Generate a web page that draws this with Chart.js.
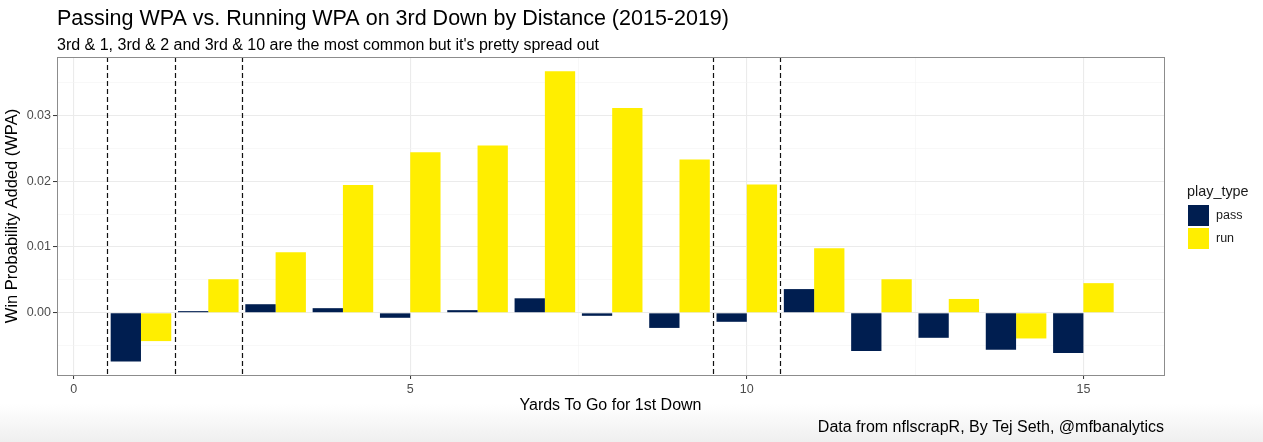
<!DOCTYPE html>
<html>
<head>
<meta charset="utf-8">
<script src="https://cdn.jsdelivr.net/npm/chart.js@4.4.1/dist/chart.umd.min.js"></script>
<style>
  html, body { margin: 0; padding: 0; }
  body { width: 1263px; height: 442px; overflow: hidden;
         background: linear-gradient(to bottom, #fff 0, #fff 404px, #efefef 442px); }
  canvas { display: block; }
</style>
</head>
<body>
<canvas id="chart" width="1263" height="442"></canvas>
<script>
const yardsToGo = [1, 2, 3, 4, 5, 6, 7, 8, 9, 10, 11, 12, 13, 14, 15];
const passWpa = [-0.0074, 0.00025, 0.0013, 0.0007, -0.00076, 0.0004, 0.0022, -0.00046, -0.0023, -0.00137, 0.0036, -0.0058, -0.0038, -0.0056, -0.0061];
const runWpa = [-0.0043, 0.0051, 0.0092, 0.0194, 0.0244, 0.0254, 0.0367, 0.0311, 0.0233, 0.0195, 0.0098, 0.0051, 0.0021, -0.0039, 0.0045];
const seriesNames = ["pass", "run"];
const seriesColors = ["#001E50", "#FFEE00"];

const xTicks = [0, 2.5, 5, 7.5, 10, 12.5, 15];
const xLabels = [0, 5, 10, 15];
const yTicks = [-0.005, 0, 0.005, 0.01, 0.015, 0.02, 0.025, 0.03, 0.035];
const yLabels = [0, 0.01, 0.02, 0.03];
const cutLines = [0.5, 1.5, 2.5, 9.5, 10.5];

const FONT = "'Liberation Sans', Arial, Helvetica, sans-serif";

function isLabel(list, v) {
  return list.some(l => Math.abs(l - v) < 1e-9);
}

function isMajor(list, c) {
  return !!(c && c.tick) && isLabel(list, c.tick.value);
}

function gridOpts(labels) {
  return {
    offset: false,
    color: c => isMajor(labels, c) ? "#ebebeb" : "#f4f4f4",
    lineWidth: c => isMajor(labels, c) ? 1.1 : 0.6,
    tickColor: c => isMajor(labels, c) ? "#333333" : "rgba(0,0,0,0)",
    tickLength: 4,
    tickWidth: 1
  };
}

const extras = {
  id: "extras",
  afterDatasetsDraw(chart) {
    const { ctx, chartArea: a, scales: { x } } = chart;
    ctx.save();
    // dashed cut lines
    ctx.strokeStyle = "#111";
    ctx.lineWidth = 1.2;
    ctx.setLineDash([5, 3]);
    cutLines.forEach(v => {
      const px = Math.round(x.getPixelForValue(v)) + 0.5;
      ctx.beginPath();
      ctx.moveTo(px, a.top);
      ctx.lineTo(px, a.bottom);
      ctx.stroke();
    });
    ctx.setLineDash([]);
    // panel border
    ctx.strokeStyle = "#8c8c8c";
    ctx.lineWidth = 1;
    ctx.strokeRect(Math.round(a.left) + 0.5, Math.round(a.top) + 0.5,
                   Math.round(a.right - a.left), Math.round(a.bottom - a.top));
    ctx.restore();
  },
  afterDraw(chart) {
    const { ctx, chartArea: a } = chart;
    ctx.save();
    // caption
    ctx.fillStyle = "#000";
    ctx.font = "16px " + FONT;
    ctx.textAlign = "right";
    ctx.textBaseline = "middle";
    ctx.fillText("Data from nflscrapR, By Tej Seth, @mfbanalytics", a.right, 428);
    // legend
    const lx = 1188;
    ctx.textAlign = "left";
    ctx.fillStyle = "#1a1a1a";
    ctx.font = "14.4px " + FONT;
    ctx.fillText("play_type", lx - 1, 192);
    chart.data.datasets.forEach((ds, i) => {
      const top = 205 + i * 23;
      ctx.fillStyle = ds.backgroundColor;
      ctx.fillRect(lx, top, 21, 21);
      ctx.fillStyle = "#1a1a1a";
      ctx.font = "12.5px " + FONT;
      ctx.fillText(ds.label, lx + 28, top + 11);
    });
    ctx.restore();
  }
};

Chart.defaults.font.family = FONT;

new Chart(document.getElementById("chart"), {
  type: "bar",
  data: {
    datasets: [
      {
        label: seriesNames[0],
        data: yardsToGo.map((d, i) => ({ x: d, y: passWpa[i] })),
        backgroundColor: seriesColors[0],
        categoryPercentage: 0.9,
        barPercentage: 1.0
      },
      {
        label: seriesNames[1],
        data: yardsToGo.map((d, i) => ({ x: d, y: runWpa[i] })),
        backgroundColor: seriesColors[1],
        categoryPercentage: 0.9,
        barPercentage: 1.0
      }
    ]
  },
  options: {
    responsive: false,
    animation: false,
    devicePixelRatio: 1,
    layout: { padding: { left: 0, right: 99, top: 0, bottom: 27 } },
    plugins: {
      legend: { display: false },
      tooltip: { enabled: false },
      title: {
        display: true,
        text: "Passing WPA vs. Running WPA on 3rd Down by Distance (2015-2019)",
        align: "start",
        fullSize: false,
        color: "#000",
        font: { size: 21.5, weight: "normal" },
        padding: { top: 6, bottom: 0 }
      },
      subtitle: {
        display: true,
        text: "3rd & 1, 3rd & 2 and 3rd & 10 are the most common but it's pretty spread out",
        align: "start",
        fullSize: false,
        color: "#000",
        font: { size: 16, weight: "normal" },
        padding: { top: 4, bottom: 2 }
      }
    },
    scales: {
      x: {
        type: "linear",
        min: -0.2475,
        max: 16.1975,
        offset: false,
        afterBuildTicks: s => { s.ticks = xTicks.map(v => ({ value: v })); },
        afterFit: s => { s.height = 40; },
        ticks: {
          color: "#4d4d4d",
          font: { size: 12.5 },
          padding: 3,
          maxRotation: 0,
          autoSkip: false,
          callback: v => isLabel(xLabels, v) ? String(v) : ""
        },
        grid: gridOpts(xLabels),
        border: { display: false },
        title: {
          display: true,
          text: "Yards To Go for 1st Down",
          color: "#000",
          font: { size: 16 },
          padding: { top: 2, bottom: 0 }
        }
      },
      y: {
        type: "linear",
        min: -0.00945,
        max: 0.03885,
        afterBuildTicks: s => { s.ticks = yTicks.map(v => ({ value: v })); },
        afterFit: s => { s.width = 57; },
        ticks: {
          color: "#4d4d4d",
          font: { size: 12.5 },
          padding: 2,
          autoSkip: false,
          callback: v => isLabel(yLabels, v) ? v.toFixed(2) : ""
        },
        grid: gridOpts(yLabels),
        border: { display: false },
        title: {
          display: true,
          text: "Win Probability Added (WPA)",
          color: "#000",
          font: { size: 16.5 },
          padding: { top: 3, bottom: 2 }
        }
      }
    }
  },
  plugins: [extras]
});
</script>
</body>
</html>
